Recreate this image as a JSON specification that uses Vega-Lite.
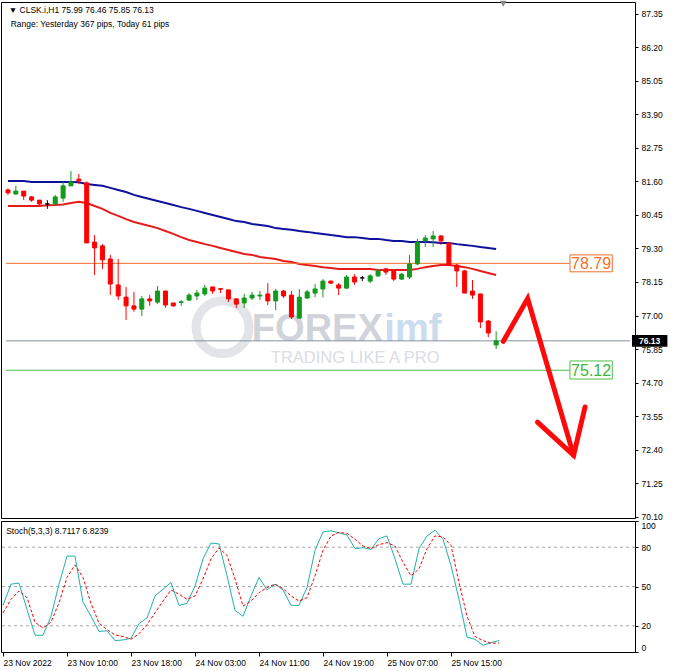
{
  "$schema": "https://vega.github.io/schema/vega-lite/v6.json",
  "padding": 0,
  "background": "white",
  "bounds": "flush",
  "spacing": 3,
  "config": {
    "view": {"stroke": "#000000", "strokeWidth": 1},
    "axis": {"labelFont": "Liberation Sans", "labelFontSize": 8.5, "labelColor": "#000000", "tickColor": "#000000", "domain": false, "grid": false, "title": null, "tickSize": 3, "labelOverlap": false, "tickCount": 30}
  },
  "datasets": {
    "bars": [
      {"i":0,"o":81.31,"h":81.36,"l":81.14,"c":81.21,"mb":81.62,"mr":80.76,"k":35.6,"d":29.9},
      {"i":1,"o":81.17,"h":81.45,"l":81.14,"c":81.27,"mb":81.62,"mr":80.76,"k":51.8,"d":40.2},
      {"i":2,"o":81.27,"h":81.27,"l":80.96,"c":81.10,"mb":81.62,"mr":80.76,"k":52.6,"d":46.6},
      {"i":3,"o":81.07,"h":81.10,"l":80.90,"c":80.96,"mb":81.58,"mr":80.76,"k":32.5,"d":41.5},
      {"i":4,"o":80.96,"h":80.96,"l":80.79,"c":80.83,"mb":81.58,"mr":80.76,"k":12.8,"d":22.7},
      {"i":5,"o":80.83,"h":80.96,"l":80.66,"c":80.83,"mb":81.58,"mr":80.78,"k":12.8,"d":18.3},
      {"i":6,"o":80.83,"h":81.14,"l":80.79,"c":81.07,"mb":81.58,"mr":80.79,"k":27.3,"d":22.7},
      {"i":7,"o":81.03,"h":81.58,"l":80.90,"c":81.45,"mb":81.58,"mr":80.81,"k":51.8,"d":37.6},
      {"i":8,"o":81.45,"h":81.96,"l":81.45,"c":81.58,"mb":81.58,"mr":80.86,"k":73.2,"d":56.9},
      {"i":9,"o":81.68,"h":81.86,"l":81.51,"c":81.62,"mb":81.57,"mr":80.90,"k":73.2,"d":66.5},
      {"i":10,"o":81.55,"h":81.60,"l":79.49,"c":79.49,"mb":81.51,"mr":80.86,"k":38.1,"d":56.9},
      {"i":11,"o":79.52,"h":79.76,"l":78.39,"c":79.32,"mb":81.48,"mr":80.76,"k":27.3,"d":37.1},
      {"i":12,"o":79.39,"h":79.45,"l":78.60,"c":78.91,"mb":81.45,"mr":80.66,"k":15.7,"d":22.1},
      {"i":13,"o":78.94,"h":79.08,"l":77.70,"c":78.08,"mb":81.38,"mr":80.52,"k":16.2,"d":17.0},
      {"i":14,"o":78.05,"h":78.94,"l":77.53,"c":77.67,"mb":81.31,"mr":80.42,"k":8.7,"d":13.1},
      {"i":15,"o":77.63,"h":77.98,"l":76.85,"c":77.33,"mb":81.24,"mr":80.31,"k":9.2,"d":11.8},
      {"i":16,"o":77.33,"h":77.81,"l":77.13,"c":77.22,"mb":81.14,"mr":80.21,"k":10.5,"d":9.7},
      {"i":17,"o":77.22,"h":77.67,"l":76.98,"c":77.57,"mb":81.07,"mr":80.14,"k":21.7,"d":13.9},
      {"i":18,"o":77.57,"h":77.70,"l":77.33,"c":77.50,"mb":81.00,"mr":80.07,"k":26.0,"d":20.9},
      {"i":19,"o":77.46,"h":78.01,"l":77.39,"c":77.84,"mb":80.93,"mr":80.00,"k":42.8,"d":29.9},
      {"i":20,"o":77.84,"h":77.84,"l":77.26,"c":77.36,"mb":80.86,"mr":79.90,"k":47.9,"d":38.9},
      {"i":21,"o":77.43,"h":77.43,"l":77.30,"c":77.33,"mb":80.79,"mr":79.80,"k":53.1,"d":47.4},
      {"i":22,"o":77.45,"h":77.53,"l":77.33,"c":77.47,"mb":80.72,"mr":79.69,"k":35.6,"d":44.1},
      {"i":23,"o":77.53,"h":77.77,"l":77.50,"c":77.70,"mb":80.66,"mr":79.59,"k":37.1,"d":40.2},
      {"i":24,"o":77.67,"h":77.88,"l":77.53,"c":77.77,"mb":80.59,"mr":79.52,"k":50.4,"d":42.8},
      {"i":25,"o":77.74,"h":78.05,"l":77.67,"c":77.94,"mb":80.52,"mr":79.45,"k":71.1,"d":55.7},
      {"i":26,"o":77.98,"h":77.98,"l":77.74,"c":77.84,"mb":80.45,"mr":79.39,"k":83.2,"d":71.1},
      {"i":27,"o":77.92,"h":77.94,"l":77.77,"c":77.90,"mb":80.38,"mr":79.32,"k":82.5,"d":79.4},
      {"i":28,"o":77.88,"h":77.88,"l":77.46,"c":77.57,"mb":80.31,"mr":79.25,"k":58.2,"d":73.7},
      {"i":29,"o":77.57,"h":77.60,"l":77.26,"c":77.39,"mb":80.24,"mr":79.18,"k":31.7,"d":55.7},
      {"i":30,"o":77.43,"h":77.74,"l":77.26,"c":77.60,"mb":80.21,"mr":79.11,"k":27.3,"d":35.0},
      {"i":31,"o":77.60,"h":77.81,"l":77.53,"c":77.70,"mb":80.14,"mr":79.08,"k":42.8,"d":38.9},
      {"i":32,"o":77.67,"h":77.84,"l":77.53,"c":77.70,"mb":80.11,"mr":79.01,"k":56.9,"d":45.3},
      {"i":33,"o":77.74,"h":78.11,"l":77.36,"c":77.50,"mb":80.07,"mr":78.97,"k":47.4,"d":49.2},
      {"i":34,"o":77.50,"h":77.91,"l":77.19,"c":77.84,"mb":80.00,"mr":78.94,"k":51.8,"d":51.8},
      {"i":35,"o":77.84,"h":77.88,"l":77.60,"c":77.67,"mb":79.97,"mr":78.87,"k":47.4,"d":48.4},
      {"i":36,"o":77.70,"h":77.84,"l":76.88,"c":76.95,"mb":79.94,"mr":78.84,"k":35.6,"d":42.8},
      {"i":37,"o":76.91,"h":77.91,"l":76.91,"c":77.63,"mb":79.90,"mr":78.77,"k":35.6,"d":38.9},
      {"i":38,"o":77.60,"h":77.88,"l":77.57,"c":77.81,"mb":79.87,"mr":78.73,"k":49.2,"d":41.5},
      {"i":39,"o":77.77,"h":78.08,"l":77.63,"c":77.91,"mb":79.83,"mr":78.70,"k":77.6,"d":58.2},
      {"i":40,"o":77.91,"h":78.25,"l":77.63,"c":78.18,"mb":79.80,"mr":78.66,"k":91.7,"d":77.6},
      {"i":41,"o":78.18,"h":78.20,"l":78.10,"c":78.11,"mb":79.76,"mr":78.63,"k":92.5,"d":88.6},
      {"i":42,"o":78.05,"h":78.11,"l":77.70,"c":77.94,"mb":79.73,"mr":78.60,"k":91.0,"d":91.3},
      {"i":43,"o":77.94,"h":78.39,"l":77.91,"c":78.32,"mb":79.69,"mr":78.60,"k":89.2,"d":90.5},
      {"i":44,"o":78.32,"h":78.42,"l":78.05,"c":78.15,"mb":79.69,"mr":78.60,"k":78.9,"d":86.1},
      {"i":45,"o":78.29,"h":78.36,"l":78.18,"c":78.29,"mb":79.66,"mr":78.60,"k":79.6,"d":80.9},
      {"i":46,"o":78.18,"h":78.42,"l":78.11,"c":78.36,"mb":79.63,"mr":78.60,"k":78.3,"d":78.9},
      {"i":47,"o":78.36,"h":78.60,"l":78.32,"c":78.53,"mb":79.63,"mr":78.56,"k":86.6,"d":82.0},
      {"i":48,"o":78.60,"h":78.63,"l":78.39,"c":78.49,"mb":79.59,"mr":78.56,"k":88.6,"d":83.5},
      {"i":49,"o":78.53,"h":78.53,"l":78.18,"c":78.25,"mb":79.56,"mr":78.56,"k":71.1,"d":80.9},
      {"i":50,"o":78.25,"h":78.46,"l":78.22,"c":78.42,"mb":79.56,"mr":78.56,"k":51.8,"d":68.5},
      {"i":51,"o":78.32,"h":79.08,"l":78.25,"c":78.77,"mb":79.52,"mr":78.56,"k":51.8,"d":58.2},
      {"i":52,"o":78.77,"h":79.63,"l":78.73,"c":79.52,"mb":79.52,"mr":78.60,"k":78.9,"d":63.4},
      {"i":53,"o":79.56,"h":79.76,"l":79.35,"c":79.66,"mb":79.52,"mr":78.66,"k":88.6,"d":78.9},
      {"i":54,"o":79.63,"h":79.90,"l":79.35,"c":79.73,"mb":79.51,"mr":78.70,"k":93.0,"d":88.6},
      {"i":55,"o":79.73,"h":79.76,"l":79.42,"c":79.56,"mb":79.49,"mr":78.73,"k":86.1,"d":87.8},
      {"i":56,"o":79.49,"h":79.49,"l":78.70,"c":78.73,"mb":79.49,"mr":78.73,"k":66.0,"d":81.4},
      {"i":57,"o":78.73,"h":78.77,"l":77.98,"c":78.53,"mb":79.45,"mr":78.70,"k":40.2,"d":53.1},
      {"i":58,"o":78.53,"h":78.56,"l":77.77,"c":77.77,"mb":79.42,"mr":78.66,"k":11.3,"d":27.3},
      {"i":59,"o":77.84,"h":78.22,"l":77.57,"c":77.70,"mb":79.39,"mr":78.60,"k":9.7,"d":11.8},
      {"i":60,"o":77.74,"h":77.74,"l":76.57,"c":76.78,"mb":79.35,"mr":78.53,"k":5.1,"d":8.7},
      {"i":61,"o":76.81,"h":76.85,"l":76.26,"c":76.40,"mb":79.32,"mr":78.46,"k":7.2,"d":6.7},
      {"i":62,"o":75.99,"h":76.46,"l":75.85,"c":76.13,"mb":79.28,"mr":78.39,"k":8.7117,"d":6.8239}
    ],
    "arrow": [
      {"seg":1,"k":1,"i":62.9,"v":76.11},
      {"seg":1,"k":2,"i":66.0,"v":77.58},
      {"seg":1,"k":3,"i":71.84,"v":72.20},
      {"seg":2,"k":1,"i":67.25,"v":73.34},
      {"seg":2,"k":2,"i":71.84,"v":72.20},
      {"seg":2,"k":3,"i":73.29,"v":73.86}
    ],
    "levels": [{"lv": 20}, {"lv": 50}, {"lv": 80}]
  },
  "vconcat": [
    {
      "width": 634,
      "height": 516,
      "layer": [
        {
          "data": {"values": [{}]},
          "mark": {"type": "point", "shape": "circle", "size": 2800, "filled": false, "stroke": "#d6d9de", "strokeWidth": 9},
          "encoding": {
            "x": {"datum": 27.25, "type": "quantitative", "scale": {"domain": [-0.25, 79], "nice": false, "zero": false}, "axis": null},
            "y": {"datum": 76.6, "type": "quantitative", "scale": {"domain": [70.05, 87.76], "nice": false, "zero": false}}
          }
        },
        {
          "data": {"values": [{}]},
          "mark": {"type": "text", "text": "FOREX", "font": "Liberation Sans", "fontWeight": "bold", "fontSize": 38, "align": "right", "baseline": "alphabetic", "color": "#d0d4da"},
          "encoding": {
            "x": {"datum": 47.6, "type": "quantitative"},
            "y": {"datum": 76.12, "type": "quantitative"}
          }
        },
        {
          "data": {"values": [{}]},
          "mark": {"type": "text", "text": "imf", "font": "Liberation Sans", "fontWeight": "bold", "fontSize": 38, "align": "left", "baseline": "alphabetic", "color": "#cadcee"},
          "encoding": {
            "x": {"datum": 47.8, "type": "quantitative"},
            "y": {"datum": 76.12, "type": "quantitative"}
          }
        },
        {
          "data": {"values": [{}]},
          "mark": {"type": "text", "text": "TRADING LIKE A PRO", "font": "Liberation Sans", "fontSize": 16.5, "align": "center", "baseline": "middle", "color": "#dadde1"},
          "encoding": {
            "x": {"datum": 44.1, "type": "quantitative"},
            "y": {"datum": 75.55, "type": "quantitative"}
          }
        },
        {
          "data": {"name": "bars"},
          "mark": {"type": "line", "color": "#e61c1c", "strokeWidth": 2},
          "encoding": {
            "x": {"field": "i", "type": "quantitative"},
            "y": {"field": "mr", "type": "quantitative"}
          }
        },
        {
          "data": {"name": "bars"},
          "mark": {"type": "line", "color": "#10109e", "strokeWidth": 2},
          "encoding": {
            "x": {"field": "i", "type": "quantitative"},
            "y": {"field": "mb", "type": "quantitative"}
          }
        },
        {
          "data": {"values": [{}]},
          "mark": {"type": "rule", "color": "#f0702c", "strokeWidth": 1},
          "encoding": {
            "x": {"datum": -0.25, "type": "quantitative"},
            "x2": {"datum": 71.375},
            "y": {"datum": 78.79, "type": "quantitative"}
          }
        },
        {
          "data": {"values": [{}]},
          "mark": {"type": "rule", "color": "#4cbf4c", "strokeWidth": 1},
          "encoding": {
            "x": {"datum": -0.25, "type": "quantitative"},
            "x2": {"datum": 71.375},
            "y": {"datum": 75.12, "type": "quantitative"}
          }
        },
        {
          "data": {"values": [{}]},
          "mark": {"type": "rule", "color": "#8692a0", "strokeWidth": 1},
          "encoding": {
            "x": {"datum": -0.25, "type": "quantitative"},
            "x2": {"datum": 79},
            "y": {"datum": 76.13, "type": "quantitative"}
          }
        },
        {
          "data": {"values": [{}]},
          "mark": {"type": "rect", "fill": "#ffffff", "stroke": "#f0702c", "strokeWidth": 1},
          "encoding": {
            "x": {"datum": 71.375, "type": "quantitative"},
            "x2": {"datum": 76.75},
            "y": {"datum": 79.08, "type": "quantitative"},
            "y2": {"datum": 78.5}
          }
        },
        {
          "data": {"values": [{}]},
          "mark": {"type": "text", "text": "78.79", "font": "Liberation Sans", "fontSize": 16, "align": "center", "baseline": "middle", "color": "#f0702c"},
          "encoding": {
            "x": {"datum": 74.06, "type": "quantitative"},
            "y": {"datum": 78.77, "type": "quantitative"}
          }
        },
        {
          "data": {"values": [{}]},
          "mark": {"type": "rect", "fill": "#ffffff", "stroke": "#4cbf4c", "strokeWidth": 1},
          "encoding": {
            "x": {"datum": 71.375, "type": "quantitative"},
            "x2": {"datum": 76.75},
            "y": {"datum": 75.44, "type": "quantitative"},
            "y2": {"datum": 74.82}
          }
        },
        {
          "data": {"values": [{}]},
          "mark": {"type": "text", "text": "75.12", "font": "Liberation Sans", "fontSize": 16, "align": "center", "baseline": "middle", "color": "#3cb43c"},
          "encoding": {
            "x": {"datum": 74.06, "type": "quantitative"},
            "y": {"datum": 75.1, "type": "quantitative"}
          }
        },
        {
          "data": {"name": "bars"},
          "mark": {"type": "rule", "strokeWidth": 1},
          "encoding": {
            "x": {"field": "i", "type": "quantitative"},
            "y": {"field": "l", "type": "quantitative", "axis": {"orient": "right", "values": [70.10, 71.25, 72.40, 73.55, 74.70, 75.85, 77.00, 78.15, 79.30, 80.45, 81.60, 82.75, 83.90, 85.05, 86.20, 87.35], "format": ".2f", "labelPadding": 3, "labelOverlap": false, "tickCount": 30}},
            "y2": {"field": "h"},
            "color": {"condition": [{"test": "datum.c > datum.o", "value": "#119a1c"}, {"test": "datum.c < datum.o", "value": "#ff0000"}], "value": "#000000"}
          }
        },
        {
          "data": {"name": "bars"},
          "mark": {"type": "bar", "size": 4, "strokeWidth": 1},
          "encoding": {
            "x": {"field": "i", "type": "quantitative"},
            "y": {"field": "o", "type": "quantitative"},
            "y2": {"field": "c"},
            "fill": {"condition": [{"test": "datum.c > datum.o", "value": "#119a1c"}, {"test": "datum.c < datum.o", "value": "#ff0000"}], "value": "#000000"},
            "stroke": {"condition": [{"test": "datum.c > datum.o", "value": "#119a1c"}, {"test": "datum.c < datum.o", "value": "#ff0000"}], "value": "#000000"}
          }
        },
        {
          "data": {"name": "arrow"},
          "mark": {"type": "line", "color": "#ff0a0a", "strokeWidth": 5, "strokeCap": "round", "strokeJoin": "miter"},
          "encoding": {
            "x": {"field": "i", "type": "quantitative"},
            "y": {"field": "v", "type": "quantitative"},
            "detail": {"field": "seg"},
            "order": {"field": "k"}
          }
        },
        {
          "data": {"values": [{}]},
          "mark": {"type": "text", "text": "▼ CLSK.i,H1  75.99 76.46 75.85 76.13", "font": "Liberation Sans", "fontSize": 8.5, "align": "left", "baseline": "middle", "color": "#000000"},
          "encoding": {
            "x": {"datum": 0.1, "type": "quantitative"},
            "y": {"datum": 87.49, "type": "quantitative"}
          }
        },
        {
          "data": {"values": [{}]},
          "mark": {"type": "text", "text": "Range: Yesterday 367 pips, Today 61 pips", "font": "Liberation Sans", "fontSize": 8.5, "align": "left", "baseline": "middle", "color": "#000000"},
          "encoding": {
            "x": {"datum": 0.35, "type": "quantitative"},
            "y": {"datum": 87.01, "type": "quantitative"}
          }
        },
        {
          "data": {"values": [{}]},
          "mark": {"type": "point", "shape": "triangle-down", "size": 45, "filled": true, "color": "#8a8a8a", "opacity": 1},
          "encoding": {
            "x": {"datum": 62.9, "type": "quantitative"},
            "y": {"datum": 87.7, "type": "quantitative"}
          }
        },
        {
          "data": {"values": [{}]},
          "mark": {"type": "rect", "fill": "#000000"},
          "encoding": {
            "x": {"datum": 79.25, "type": "quantitative"},
            "x2": {"datum": 83.75},
            "y": {"datum": 76.33, "type": "quantitative"},
            "y2": {"datum": 75.93}
          }
        },
        {
          "data": {"values": [{}]},
          "mark": {"type": "text", "text": "76.13", "font": "Liberation Sans", "fontSize": 8.5, "fontWeight": "bold", "align": "center", "baseline": "middle", "color": "#ffffff"},
          "encoding": {
            "x": {"datum": 81.5, "type": "quantitative"},
            "y": {"datum": 76.13, "type": "quantitative"}
          }
        }
      ]
    },
    {
      "width": 634,
      "height": 131,
      "layer": [
        {
          "data": {"name": "levels"},
          "mark": {"type": "rule", "color": "#a8a8a8", "strokeWidth": 1, "strokeDash": [3, 3]},
          "encoding": {
            "y": {"field": "lv", "type": "quantitative", "scale": {"domain": [0, 100], "nice": false, "zero": false},
              "axis": {"orient": "right", "values": [0, 20, 50, 80, 100], "labelFlush": true, "labelPadding": 3, "labelOverlap": false, "tickCount": 30}}
          }
        },
        {
          "data": {"name": "bars"},
          "mark": {"type": "line", "color": "#20b2aa", "strokeWidth": 1},
          "encoding": {
            "x": {"field": "i", "type": "quantitative", "scale": {"domain": [-0.25, 79], "nice": false, "zero": false},
              "axis": {"values": [0, 8, 16, 24, 32, 40, 48, 56], "labelExpr": "['23 Nov 2022','23 Nov 10:00','23 Nov 18:00','24 Nov 03:00','24 Nov 11:00','24 Nov 19:00','25 Nov 07:00','25 Nov 15:00'][round(datum.value/8)]", "labelAlign": "left", "labelFlush": false, "labelPadding": 2, "tickSize": 4, "labelFontSize": 8.5}},
            "y": {"field": "k", "type": "quantitative"}
          }
        },
        {
          "data": {"name": "bars"},
          "mark": {"type": "line", "color": "#ff0000", "strokeWidth": 1, "strokeDash": [3, 2]},
          "encoding": {
            "x": {"field": "i", "type": "quantitative"},
            "y": {"field": "d", "type": "quantitative"}
          }
        },
        {
          "data": {"values": [{}]},
          "mark": {"type": "text", "text": "Stoch(5,3,3) 8.7117 6.8239", "font": "Liberation Sans", "fontSize": 8.5, "align": "left", "baseline": "middle", "color": "#000000"},
          "encoding": {
            "x": {"datum": 0.4, "type": "quantitative"},
            "y": {"datum": 92.4, "type": "quantitative"}
          }
        }
      ]
    }
  ]
}
